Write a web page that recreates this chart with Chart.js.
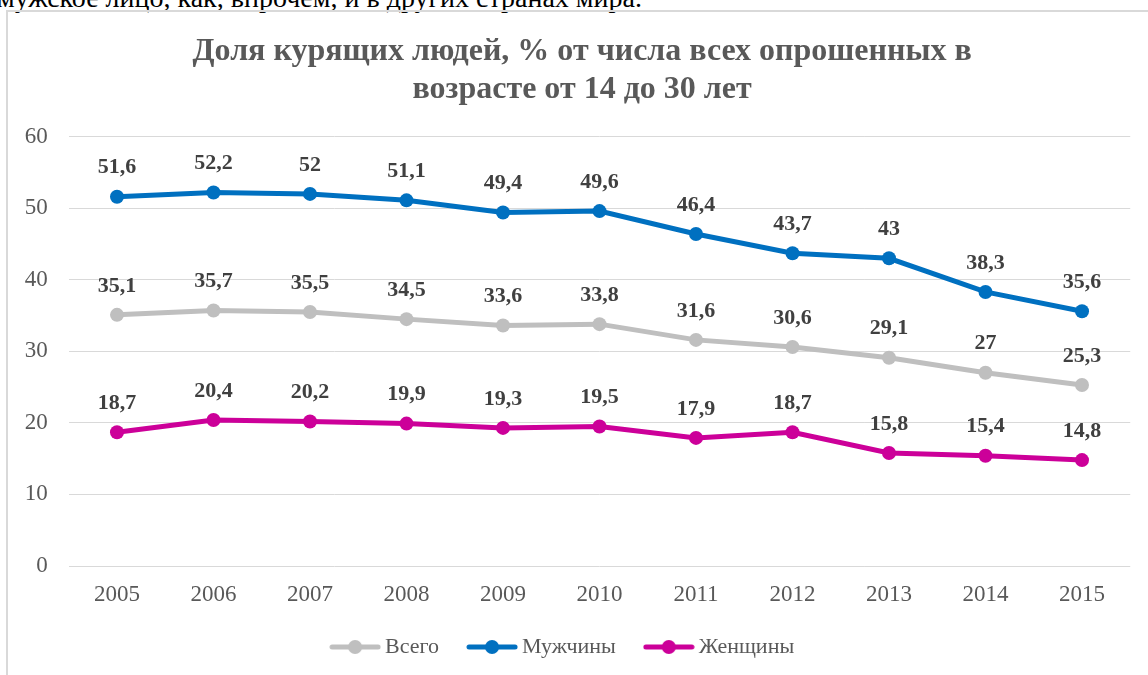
<!DOCTYPE html>
<html>
<head>
<meta charset="utf-8">
<script src="https://cdn.jsdelivr.net/npm/chart.js@4"></script>
<style>
  html, body { margin: 0; padding: 0; background: #fff; overflow: hidden; }
  #page { position: relative; width: 1148px; height: 675px; overflow: hidden; }
  #textAbove { position: absolute; left: -3px; top: -18px; font-family: 'Liberation Serif', serif; font-size: 28px; line-height: 31px; color: #000; white-space: nowrap; }
  #frame { position: absolute; left: 6px; top: 10px; width: 1200px; height: 700px; border-left: 2px solid #d9d9d9; border-top: 2px solid #d9d9d9; }
  #grafico { position: absolute; left: 0; top: 0; }
</style>
</head>
<body>
<div id="page">
  <div id="textAbove">мужское лицо, как, впрочем, и в других странах мира.</div>
  <div id="frame"></div>
  <canvas id="grafico" width="1148" height="675"></canvas>
</div>
<script>
  // Datos del gráfico
  var anhos = ['2005', '2006', '2007', '2008', '2009', '2010', '2011', '2012', '2013', '2014', '2015'];
  var vsego = [35.1, 35.7, 35.5, 34.5, 33.6, 33.8, 31.6, 30.6, 29.1, 27, 25.3];
  var muzhchiny = [51.6, 52.2, 52, 51.1, 49.4, 49.6, 46.4, 43.7, 43, 38.3, 35.6];
  var zhenshchiny = [18.7, 20.4, 20.2, 19.9, 19.3, 19.5, 17.9, 18.7, 15.8, 15.4, 14.8];
  var nombres = ['Всего', 'Мужчины', 'Женщины'];
  var colores = ['#BFBFBF', '#0070C0', '#CC0099'];
  var ticksY = [0, 10, 20, 30, 40, 50, 60];

  var fuente = 'Liberation Serif';
  Chart.defaults.font.family = fuente;

  // Marcador de la leyenda: linea con circulo
  function marcador(color) {
    var c = document.createElement('canvas');
    c.width = 52; c.height = 16;
    var ctx = c.getContext('2d');
    ctx.strokeStyle = color;
    ctx.lineWidth = 5;
    ctx.lineCap = 'round';
    ctx.beginPath();
    ctx.moveTo(3, 8); ctx.lineTo(49, 8);
    ctx.stroke();
    ctx.fillStyle = color;
    ctx.beginPath();
    ctx.arc(26, 8, 7, 0, Math.PI * 2);
    ctx.fill();
    return c;
  }

  // Etiquetas de valores sobre los puntos
  var etiquetas = {
    id: 'etiquetas',
    afterLayout: function(chart) {
      // el titulo esta un poco a la derecha en el original
      chart.titleBlock.left += 17;
      chart.titleBlock.right += 17;
    },
    afterDatasetsDraw: function(chart) {
      var ctx = chart.ctx;
      ctx.save();
      ctx.font = 'bold 22px ' + fuente;
      ctx.fillStyle = '#404040';
      ctx.textAlign = 'center';
      ctx.textBaseline = 'middle';
      chart.data.datasets.forEach(function(ds, i) {
        chart.getDatasetMeta(i).data.forEach(function(p, j) {
          ctx.fillText(String(ds.data[j]).replace('.', ','), p.x, p.y - 29);
        });
      });
      ctx.restore();
    }
  };

  var series = [vsego, muzhchiny, zhenshchiny];
  var datasets = series.map(function(d, i) {
    return {
      label: nombres[i],
      data: d,
      borderColor: colores[i],
      backgroundColor: colores[i],
      borderWidth: 5,
      pointRadius: 7,
      pointHoverRadius: 7,
      pointBackgroundColor: colores[i],
      pointBorderWidth: 0,
      pointStyle: 'circle',
      legendStyle: marcador(colores[i]),
      tension: 0
    };
  });

  new Chart(document.getElementById('grafico').getContext('2d'), {
    type: 'line',
    data: { labels: anhos, datasets: datasets },
    plugins: [etiquetas],
    options: {
      responsive: false,
      animation: false,
      layout: { padding: { left: 0, right: 17.75, top: 0, bottom: 7 } },
      plugins: {
        title: {
          display: true,
          text: ['Доля курящих людей, % от числа всех опрошенных в', 'возрасте от 14 до 30 лет'],
          color: '#595959',
          font: { family: fuente, size: 32, weight: 'bold', lineHeight: 1.19 },
          padding: { top: 33, bottom: 27.5 }
        },
        legend: {
          position: 'bottom',
          labels: {
            usePointStyle: true,
            pointStyleWidth: 38,
            boxHeight: 16,
            padding: 34,
            color: '#595959',
            font: { family: fuente, size: 22 },
            generateLabels: function(chart) {
              return chart.data.datasets.map(function(ds, i) {
                return {
                  text: ds.label,
                  pointStyle: ds.legendStyle,
                  fillStyle: ds.borderColor,
                  strokeStyle: ds.borderColor,
                  lineWidth: 0,
                  fontColor: '#595959',
                  hidden: false,
                  datasetIndex: i
                };
              });
            }
          }
        },
        tooltip: { enabled: false }
      },
      scales: {
        x: {
          offset: true,
          grid: { display: false, drawTicks: false },
          border: { display: false },
          ticks: { color: '#595959', font: { family: fuente, size: 23 }, padding: 15, maxRotation: 0 },
          afterFit: function(scale) { scale.height = 36; }
        },
        y: {
          min: 0,
          max: 60,
          afterBuildTicks: function(scale) { scale.ticks = ticksY.map(function(v) { return { value: v }; }); },
          grid: { color: '#d9d9d9', lineWidth: 1, drawTicks: false },
          border: { display: false },
          ticks: { color: '#595959', font: { family: fuente, size: 23 }, padding: 21 },
          afterFit: function(scale) { scale.width = 68.75; }
        }
      }
    }
  });
</script>
</body>
</html>
